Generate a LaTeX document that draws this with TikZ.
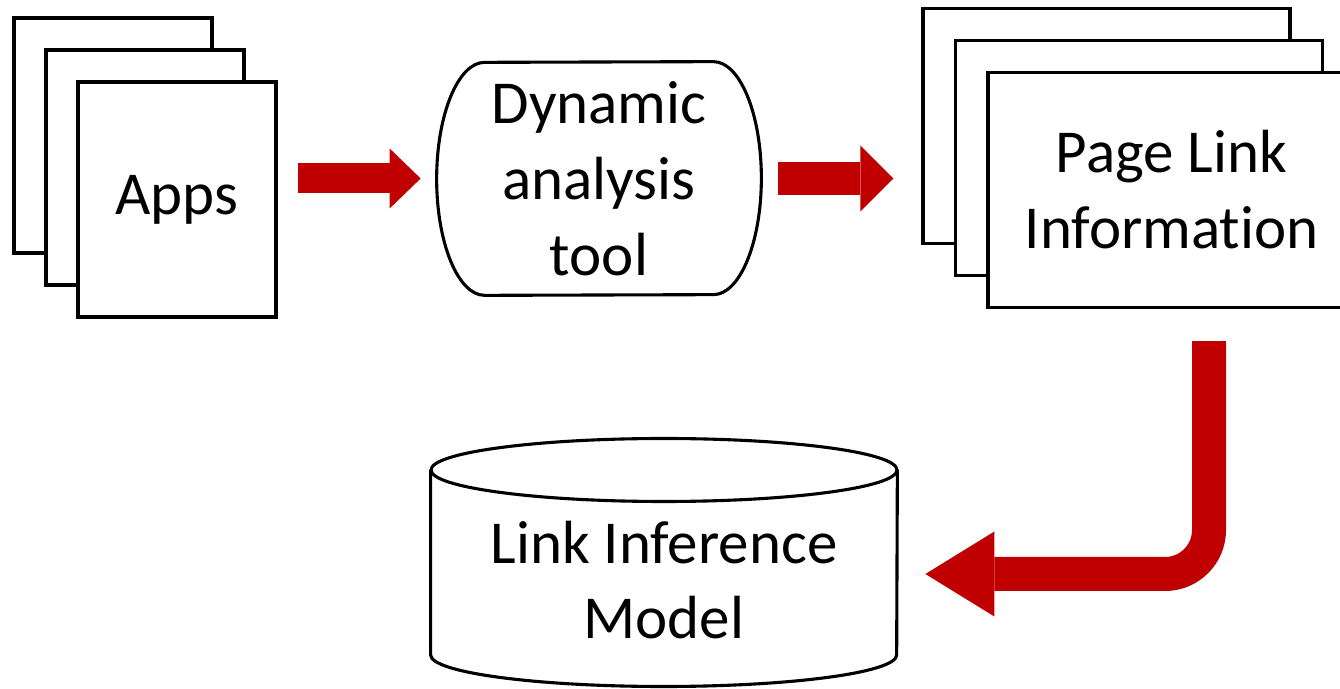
\documentclass[tikz,border=0pt]{standalone}
\usepackage{fontspec}
\setmainfont{Carlito}[Ligatures = NoCommon]
\usetikzlibrary{arrows.meta}

\definecolor{linkred}{HTML}{C00000}

\begin{document}
\begin{tikzpicture}[
  x = 0.2mm, y = 0.2mm,
  every node/.style = {font = \fontsize{34.7}{43.2}\selectfont, align = center},
  outline/.style = {draw, line width = 0.62mm},
  page/.style = {outline, fill = white, minimum height = 47mm, inner sep = 0pt},
  flow/.style n args = {3}{draw = linkred, line width = #1,
    -{Triangle[length = #2, width = #3, line width = 0pt]}},
  ]
  \useasboundingbox (0,0) rectangle (1340,688);
  \clip (0,0) rectangle (1340,688);

  \node[page, minimum width = 39.6mm] (apps3) at (113,552.5) {};
  \node[page, minimum width = 39.6mm] (apps2) at ([shift={(32,-32)}]apps3.center) {};
  \node[page, minimum width = 39.6mm] (apps) at ([shift={(32,-32)}]apps2.center) {Apps};

  \node[minimum width = 64.8mm, minimum height = 46.6mm] (tool) at (599,509.5)
    {Dynamic\\analysis\\tool};
  \draw[outline] ([xshift=-9.6mm]tool.north east)
    arc[start angle = 90, end angle = -90, x radius = 9.6mm, y radius = 23.3mm]
    -- ([xshift=9.6mm]tool.south west)
    arc[start angle = 270, end angle = 90, x radius = 9.6mm, y radius = 23.3mm]
    -- cycle;

  \node[page, minimum width = 73.4mm] (pli3) at (1106.5,562) {};
  \node[page, minimum width = 73.4mm] (pli2) at ([shift={(32.5,-32)}]pli3.center) {};
  \node[page, minimum width = 73.4mm] (pli) at ([shift={(32.5,-32)}]pli2.center)
    {Page Link\\Information};

  \node[minimum width = 93.2mm] (model) at (664,108) {Link Inference\\Model};
  \draw[outline] ([yshift=22mm]model.west) -- ([yshift=-15mm]model.west)
    arc[start angle = 180, end angle = 360, x radius = 46.6mm, y radius = 6.3mm]
    -- ([yshift=22mm]model.east);
  \draw[outline] ([yshift=22mm]model.center)
    ellipse [x radius = 46.6mm, y radius = 6.3mm];

  \draw[flow = {6mm}{6.2mm}{12mm}, shorten <= 4mm, shorten >= 3.2mm]
    (apps.east |- tool.west) -- (tool.west);
  \draw[flow = {6.6mm}{6.6mm}{13.2mm}, shorten <= 3.4mm, shorten >= 5.6mm]
    (tool.east) -- (pli3.west |- tool.east);
  \draw[flow = {6.8mm}{13.8mm}{17mm}, rounded corners = 8.8mm,
    shorten <= 6.4mm, shorten >= 5.6mm]
    ([xshift=7.5mm]pli.south) |- ([yshift=1.2mm]model.east);
\end{tikzpicture}
\end{document}
